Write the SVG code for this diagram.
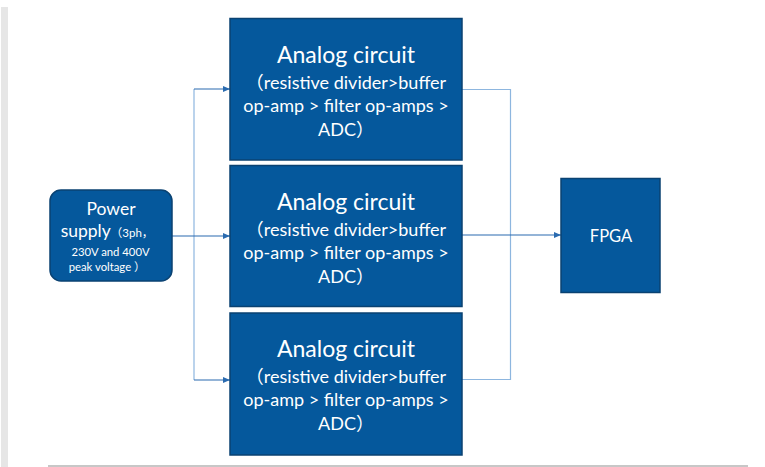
<svg xmlns="http://www.w3.org/2000/svg" width="765" height="467" viewBox="0 0 765 467">
<defs>
<marker id="ah" markerWidth="8" markerHeight="6" refX="7" refY="3" orient="auto" markerUnits="userSpaceOnUse">
<path d="M0,0 L7,3 L0,6 Z" fill="#2a6bb0"/>
</marker>
<style>
.box{fill:#05589c;stroke:#0a4272;stroke-width:1.5}
.t{font-family:Lato,"Liberation Sans","Noto Sans CJK SC",sans-serif;fill:#ffffff;text-anchor:middle}
.big{font-size:23px}
.mid{font-size:18px}
.sm{font-size:11.3px}
.wire{fill:none;stroke:#8db6df;stroke-width:1.2}
.arr{fill:none;stroke:#2a6bb0;stroke-width:1.2}
</style>
</defs>
<rect x="0" y="0" width="765" height="467" fill="#ffffff"/>
<rect x="1" y="7" width="7" height="460" fill="#e6e6e6"/>
<line x1="48" y1="466" x2="748" y2="466" stroke="#b4b4b4" stroke-width="1.5"/>
<g id="connectors">
<path class="wire" d="M194,89 V380"/>
<path class="arr" d="M194,89 H230" marker-end="url(#ah)"/>
<path class="arr" d="M194,380 H230" marker-end="url(#ah)"/>
<path class="arr" d="M172,236 H230" marker-end="url(#ah)"/>
<path class="wire" d="M462,89.5 H510.5 V379.5 H462"/>
<path class="arr" d="M462,235 H561" marker-end="url(#ah)"/>
</g>
<g id="power">
<rect class="box" x="50" y="190" width="122" height="91" rx="11"/>
<text class="t" font-size="17.5" x="111" y="215">Power</text>
<text class="t" x="107" y="237"><tspan font-size="17.5">supply</tspan><tspan font-size="11.5">（3ph，</tspan></text>
<text class="t sm" x="110.5" y="256">230V and 400V</text>
<text class="t sm" x="107" y="271">peak voltage ）</text>
</g>
<g id="analog1">
<rect class="box" x="230" y="18.5" width="232" height="141.5"/>
<text class="t big" x="346" y="63">Analog circuit</text>
<text class="t mid" x="346" y="89">（resistive divider&gt;buffer</text>
<text class="t mid" x="346" y="112">op-amp &gt; filter op-amps &gt;</text>
<text class="t mid" x="346" y="136">ADC）</text>
</g>
<g id="analog2">
<rect class="box" x="230" y="165.5" width="232" height="141"/>
<text class="t big" x="346" y="210">Analog circuit</text>
<text class="t mid" x="346" y="236">（resistive divider&gt;buffer</text>
<text class="t mid" x="346" y="259">op-amp &gt; filter op-amps &gt;</text>
<text class="t mid" x="346" y="283">ADC）</text>
</g>
<g id="analog3">
<rect class="box" x="230" y="313" width="232" height="142"/>
<text class="t big" x="346" y="357">Analog circuit</text>
<text class="t mid" x="346" y="383">（resistive divider&gt;buffer</text>
<text class="t mid" x="346" y="406">op-amp &gt; filter op-amps &gt;</text>
<text class="t mid" x="346" y="430">ADC）</text>
</g>
<g id="fpga">
<rect class="box" x="561" y="178.5" width="99" height="114"/>
<text class="t" font-size="16.5" x="611" y="242">FPGA</text>
</g>
</svg>
